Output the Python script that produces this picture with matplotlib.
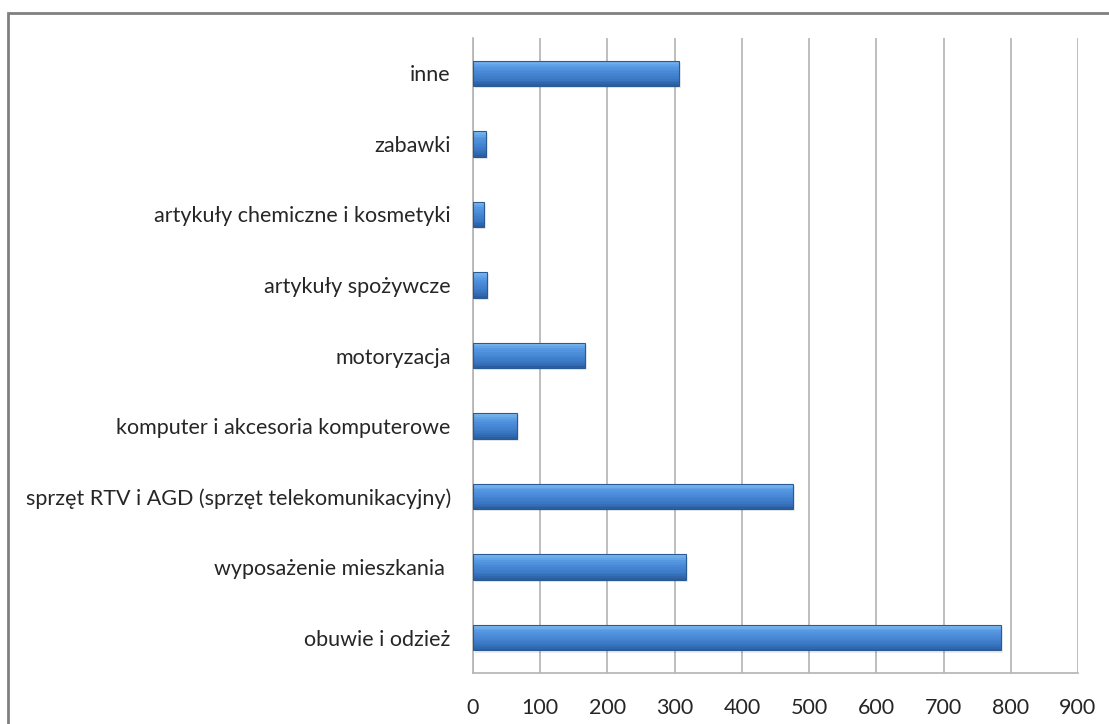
import numpy as np
import matplotlib
matplotlib.use('Agg')
import matplotlib.pyplot as plt
from matplotlib.colors import LinearSegmentedColormap
from matplotlib.patches import Rectangle

categories = ["obuwie i odzież", "wyposażenie mieszkania ",
              "sprzęt RTV i AGD (sprzęt telekomunikacyjny)",
              "komputer i akcesoria komputerowe", "motoryzacja",
              "artykuły spożywcze", "artykuły chemiczne i kosmetyki",
              "zabawki", "inne"]
values = [785, 317, 476, 65, 166, 21, 16, 19, 306]
x_ticks = [0, 100, 200, 300, 400, 500, 600, 700, 800, 900]

plt.rcParams['font.family'] = ['Lato', 'DejaVu Sans']

fig = plt.figure(figsize=(11.09, 7.24), dpi=100)
ax = fig.add_axes([473 / 1109, 51 / 724, 605 / 1109, 635 / 724])

y = np.arange(len(categories))
h = 0.36

# shadow
ax.barh(y - 0.03, values, height=h, left=3, color='#000000', alpha=0.08, zorder=2)

# bevel-like vertical gradient built from thin strips
grad = LinearSegmentedColormap.from_list('bev', ['#2a5b9b', '#3a77c3', '#4786d4', '#5598e2', '#80baf0'])
n = 14
for i in range(n):
    frac = (i + 0.5) / n
    ax.barh(y - h / 2 + i * h / n, values, height=h / n, align='edge',
            color=grad(frac), linewidth=0, zorder=3)
ax.barh(y, values, height=h, color='none', edgecolor='#2a5a94', linewidth=0.8, zorder=4)

ax.set_xlim(0, 900)
ax.set_ylim(-0.5, len(categories) - 0.5)
ax.set_xticks(x_ticks)
ax.set_yticks(y)
ax.set_yticklabels(categories)
ax.tick_params(axis='both', length=0, labelsize=15.5, colors='#262626')
ax.tick_params(axis='y', pad=16)
ax.tick_params(axis='x', pad=18)
ax.grid(axis='x', color='#b3b3b3', linewidth=1.2, zorder=0)
ax.set_axisbelow(True)
for side in ['top', 'right']:
    ax.spines[side].set_visible(False)
for side in ['left', 'bottom']:
    ax.spines[side].set_color('#b3b3b3')
    ax.spines[side].set_linewidth(1.2)

# outer chart border
fig.patches.append(Rectangle((8 / 1109, -0.05), 1.2, (724 - 13) / 724 + 0.05,
                             transform=fig.transFigure, fill=False,
                             edgecolor='#808080', linewidth=2))

fig.savefig('out.png', dpi=100)
